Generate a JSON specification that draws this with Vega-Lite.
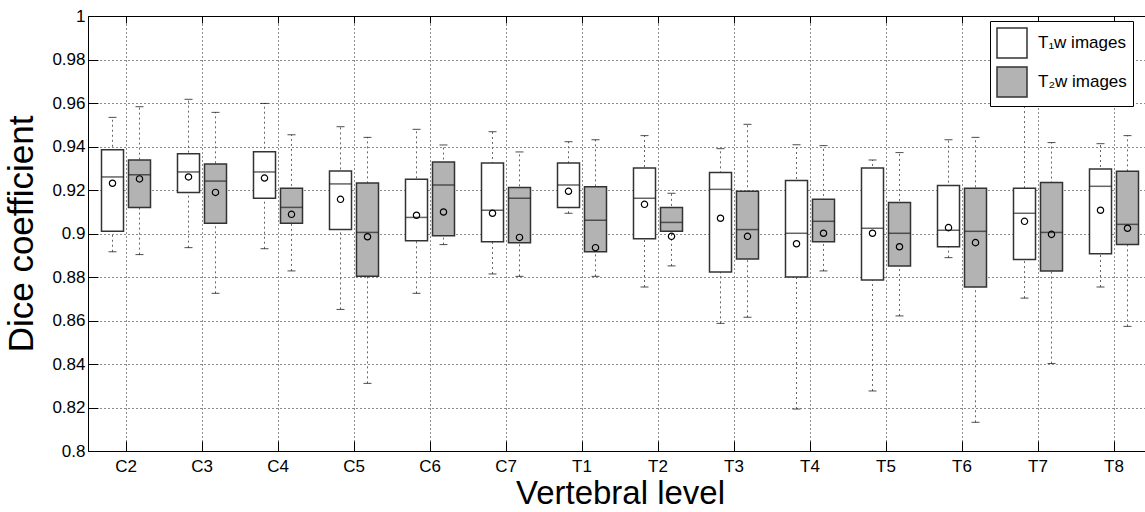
{
  "$schema": "https://vega.github.io/schema/vega-lite/v6.json",
  "width": 1064,
  "height": 435,
  "autosize": {"type": "none"},
  "padding": {"left": 88, "top": 16, "right": 0, "bottom": 61},
  "background": "white",
  "config": {
    "view": {"stroke": "black", "strokeWidth": 1},
    "font": "Liberation Sans",
    "axis": {"labelFont": "Liberation Sans", "titleFont": "Liberation Sans", "labelColor": "black", "titleColor": "black", "titleFontWeight": "normal", "domain": false}
  },
  "resolve": {"axis": {"x": "independent"}},
  "data": {"values": [
    {"level": "C2", "seq": "T₁w images", "lower": 0.8916, "q1": 0.901, "median": 0.926, "q3": 0.9385, "upper": 0.9534, "mean": 0.9231},
    {"level": "C2", "seq": "T₂w images", "lower": 0.8903, "q1": 0.912, "median": 0.927, "q3": 0.9338, "upper": 0.9583, "mean": 0.9251},
    {"level": "C3", "seq": "T₁w images", "lower": 0.8935, "q1": 0.9189, "median": 0.9283, "q3": 0.9367, "upper": 0.9617, "mean": 0.926},
    {"level": "C3", "seq": "T₂w images", "lower": 0.8725, "q1": 0.9047, "median": 0.9241, "q3": 0.932, "upper": 0.9557, "mean": 0.9189},
    {"level": "C4", "seq": "T₁w images", "lower": 0.893, "q1": 0.9162, "median": 0.9283, "q3": 0.9376, "upper": 0.9598, "mean": 0.9255},
    {"level": "C4", "seq": "T₂w images", "lower": 0.8828, "q1": 0.9047, "median": 0.912, "q3": 0.9208, "upper": 0.9454, "mean": 0.9088},
    {"level": "C5", "seq": "T₁w images", "lower": 0.8651, "q1": 0.9018, "median": 0.9228, "q3": 0.9287, "upper": 0.9491, "mean": 0.9157},
    {"level": "C5", "seq": "T₂w images", "lower": 0.8311, "q1": 0.8803, "median": 0.9005, "q3": 0.9232, "upper": 0.9442, "mean": 0.8985},
    {"level": "C6", "seq": "T₁w images", "lower": 0.8725, "q1": 0.8967, "median": 0.9074, "q3": 0.9249, "upper": 0.9479, "mean": 0.9084},
    {"level": "C6", "seq": "T₂w images", "lower": 0.8949, "q1": 0.899, "median": 0.9223, "q3": 0.9329, "upper": 0.9407, "mean": 0.9099},
    {"level": "C7", "seq": "T₁w images", "lower": 0.8814, "q1": 0.8962, "median": 0.9107, "q3": 0.9324, "upper": 0.9468, "mean": 0.9093},
    {"level": "C7", "seq": "T₂w images", "lower": 0.8803, "q1": 0.8958, "median": 0.9162, "q3": 0.9211, "upper": 0.9375, "mean": 0.8982},
    {"level": "T1", "seq": "T₁w images", "lower": 0.9093, "q1": 0.912, "median": 0.9223, "q3": 0.9324, "upper": 0.9422, "mean": 0.9194},
    {"level": "T1", "seq": "T₂w images", "lower": 0.8803, "q1": 0.8916, "median": 0.9061, "q3": 0.9215, "upper": 0.9431, "mean": 0.8935},
    {"level": "T2", "seq": "T₁w images", "lower": 0.8754, "q1": 0.8976, "median": 0.9162, "q3": 0.9301, "upper": 0.945, "mean": 0.9134},
    {"level": "T2", "seq": "T₂w images", "lower": 0.8851, "q1": 0.901, "median": 0.9051, "q3": 0.912, "upper": 0.9185, "mean": 0.8987},
    {"level": "T3", "seq": "T₁w images", "lower": 0.8587, "q1": 0.8823, "median": 0.9203, "q3": 0.9281, "upper": 0.939, "mean": 0.907},
    {"level": "T3", "seq": "T₂w images", "lower": 0.8615, "q1": 0.8883, "median": 0.9018, "q3": 0.9194, "upper": 0.9502, "mean": 0.8987},
    {"level": "T4", "seq": "T₁w images", "lower": 0.8193, "q1": 0.88, "median": 0.9001, "q3": 0.9244, "upper": 0.9408, "mean": 0.8953},
    {"level": "T4", "seq": "T₂w images", "lower": 0.8828, "q1": 0.8962, "median": 0.9056, "q3": 0.9157, "upper": 0.9404, "mean": 0.9001},
    {"level": "T5", "seq": "T₁w images", "lower": 0.8276, "q1": 0.8786, "median": 0.9024, "q3": 0.9301, "upper": 0.9338, "mean": 0.9001},
    {"level": "T5", "seq": "T₂w images", "lower": 0.8621, "q1": 0.8851, "median": 0.9001, "q3": 0.9143, "upper": 0.9372, "mean": 0.8939},
    {"level": "T6", "seq": "T₁w images", "lower": 0.8889, "q1": 0.8939, "median": 0.9015, "q3": 0.9221, "upper": 0.9431, "mean": 0.9027},
    {"level": "T6", "seq": "T₂w images", "lower": 0.8132, "q1": 0.8754, "median": 0.901, "q3": 0.9208, "upper": 0.9442, "mean": 0.8958},
    {"level": "T7", "seq": "T₁w images", "lower": 0.8703, "q1": 0.888, "median": 0.9093, "q3": 0.9208, "upper": 0.965, "mean": 0.9056},
    {"level": "T7", "seq": "T₂w images", "lower": 0.8402, "q1": 0.8828, "median": 0.9005, "q3": 0.9235, "upper": 0.9418, "mean": 0.8996},
    {"level": "T8", "seq": "T₁w images", "lower": 0.8754, "q1": 0.8907, "median": 0.9217, "q3": 0.9297, "upper": 0.9413, "mean": 0.9107},
    {"level": "T8", "seq": "T₂w images", "lower": 0.8573, "q1": 0.8949, "median": 0.9042, "q3": 0.9286, "upper": 0.945, "mean": 0.9024}
  ]},
  "encoding": {
    "xOffset": {
      "field": "seq", "type": "nominal",
      "scale": {"domain": ["T₁w images", "T₂w images"], "paddingInner": 0.185, "paddingOuter": 0.5}
    }
  },
  "layer": [
    {
      "mark": {"type": "rule", "strokeDash": [2, 3], "color": "#666666", "strokeWidth": 1},
      "encoding": {
        "x": {
          "field": "level", "type": "nominal",
          "scale": {"domain": ["C2","C3","C4","C5","C6","C7","T1","T2","T3","T4","T5","T6","T7","T8"], "paddingInner": 0, "paddingOuter": 0},
          "axis": {
            "title": "Vertebral level", "titleFontSize": 33, "titlePadding": 3,
            "labelAngle": 0, "labelFontSize": 17, "labelPadding": 17,
            "tickSize": -10, "tickColor": "black", "bandPosition": 0.5,
            "grid": true, "gridDash": [1, 3], "gridColor": "black", "gridOpacity": 0.9
          }
        },
        "y": {
          "field": "lower", "type": "quantitative",
          "scale": {"domain": [0.8, 1], "nice": false, "zero": false},
          "axis": {
            "title": "Dice coefficient", "titleFontSize": 35, "titlePadding": 12,
            "values": [0.8,0.81,0.82,0.83,0.84,0.85,0.86,0.87,0.88,0.89,0.9,0.91,0.92,0.93,0.94,0.95,0.96,0.97,0.98,0.99,1.0],
            "labelExpr": "round(datum.value*100) % 2 == 0 ? format(datum.value, '~g') : ''",
            "labelFontSize": 17, "labelPadding": 13, "labelBound": false, "labelOverlap": false,
            "tickSize": -10, "tickColor": "black",
            "grid": true, "gridDash": [1, 3], "gridColor": "black", "gridOpacity": 0.9
          }
        },
        "y2": {"field": "upper"}
      }
    },
    {
      "mark": {"type": "tick", "color": "black", "thickness": 1, "size": 8},
      "encoding": {
        "x": {"field": "level", "type": "nominal", "axis": {"orient": "top", "title": null, "labels": false, "grid": false, "tickSize": -7, "tickColor": "black", "bandPosition": 0.5}},
        "y": {"field": "upper", "type": "quantitative"}
      }
    },
    {
      "mark": {"type": "tick", "color": "black", "thickness": 1, "size": 8},
      "encoding": {
        "x": {"field": "level", "type": "nominal", "axis": null},
        "y": {"field": "lower", "type": "quantitative"}
      }
    },
    {
      "mark": {"type": "bar", "stroke": "#333333", "strokeWidth": 1.5},
      "encoding": {
        "x": {"field": "level", "type": "nominal", "axis": null},
        "y": {"field": "q1", "type": "quantitative"},
        "y2": {"field": "q3"},
        "fill": {
          "field": "seq", "type": "nominal",
          "scale": {"domain": ["T₁w images", "T₂w images"], "range": ["#ffffff", "#b3b3b3"]},
          "legend": {
            "title": null, "orient": "none", "legendX": 902, "legendY": 5,
            "symbolType": "square", "symbolSize": 900, "symbolStrokeColor": "#333333", "symbolStrokeWidth": 1.5,
            "labelFontSize": 17, "labelFont": "Liberation Sans", "labelColor": "black", "labelOffset": 10,
            "rowPadding": 3, "padding": 6, "strokeColor": "black", "fillColor": "white", "labelLimit": 300
          }
        }
      }
    },
    {
      "mark": {"type": "tick", "color": "#222222", "thickness": 1.5, "size": 22},
      "encoding": {
        "x": {"field": "level", "type": "nominal", "axis": null},
        "y": {"field": "median", "type": "quantitative"}
      }
    },
    {
      "mark": {"type": "point", "shape": "circle", "filled": false, "stroke": "black", "strokeWidth": 1.2, "size": 40, "opacity": 1},
      "encoding": {
        "x": {"field": "level", "type": "nominal", "axis": null},
        "y": {"field": "mean", "type": "quantitative"}
      }
    }
  ]
}
